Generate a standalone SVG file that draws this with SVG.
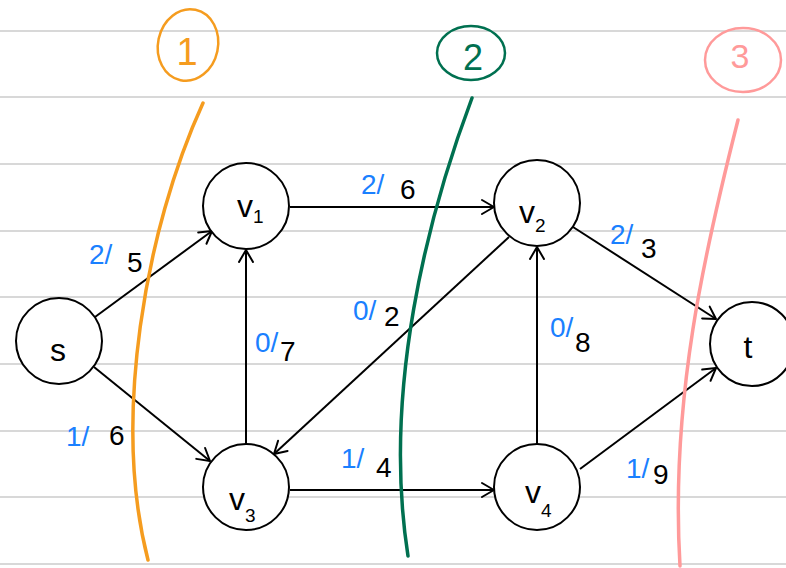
<svg xmlns="http://www.w3.org/2000/svg" width="786" height="568" viewBox="0 0 786 568">
<defs>
<style>
.rule{stroke:#d8d8d8;stroke-width:2}
.node{fill:#fff;stroke:#000;stroke-width:2}
.edge{stroke:#000;stroke-width:2;fill:none;marker-end:url(#arr)}
.lbl{font-family:"Liberation Sans","DejaVu Sans",sans-serif;fill:#000}
.nl{font-size:32px}
.sub{font-size:19px}
.fl{fill:#1a80ff}
.num{font-size:28px}
.cut{fill:none;stroke-width:3.5;stroke-linecap:round}
</style>
<marker id="arr" viewBox="-14 -9 16 18" refX="0" refY="0" markerWidth="16" markerHeight="18" markerUnits="userSpaceOnUse" orient="auto">
<path d="M-12,-7 L0,0 L-12,7" fill="none" stroke="#000" stroke-width="2" stroke-linecap="round" stroke-linejoin="round"/>
</marker>
</defs>
<rect width="786" height="568" fill="#fff"/>
<g id="rules">
<line class="rule" x1="0" y1="31" x2="786" y2="31"/>
<line class="rule" x1="0" y1="97" x2="786" y2="97"/>
<line class="rule" x1="0" y1="164" x2="786" y2="164"/>
<line class="rule" x1="0" y1="231" x2="786" y2="231"/>
<line class="rule" x1="0" y1="297" x2="786" y2="297"/>
<line class="rule" x1="0" y1="364" x2="786" y2="364"/>
<line class="rule" x1="0" y1="431" x2="786" y2="431"/>
<line class="rule" x1="0" y1="497" x2="786" y2="497"/>
<line class="rule" x1="0" y1="564" x2="786" y2="564"/>
</g>
<g id="connectors">
<line class="edge" x1="95" y1="317" x2="212" y2="231"/>
<line class="edge" x1="94" y1="367" x2="210" y2="461"/>
<line class="edge" x1="290" y1="207" x2="494" y2="207"/>
<line class="edge" x1="246" y1="444" x2="246" y2="250"/>
<line class="edge" x1="509" y1="237" x2="274" y2="454"/>
<line class="edge" x1="537" y1="444" x2="537" y2="247"/>
<line class="edge" x1="573" y1="227" x2="716" y2="319"/>
<line class="edge" x1="290" y1="490" x2="494" y2="490"/>
<line class="edge" x1="580" y1="469" x2="716" y2="368"/>
</g>
<g id="node-s"><circle class="node" cx="59" cy="341" r="43"/><text class="lbl nl" x="58" y="361" text-anchor="middle">s</text></g>
<g id="node-v1"><circle class="node" cx="246" cy="206" r="43"/><text class="lbl nl" x="237" y="217">v<tspan class="sub" dy="6">1</tspan></text></g>
<g id="node-v2"><circle class="node" cx="537" cy="203" r="43"/><text class="lbl nl" x="519" y="223">v<tspan class="sub" dy="9">2</tspan></text></g>
<g id="node-v3"><circle class="node" cx="246" cy="487" r="43"/><text class="lbl nl" x="229" y="510">v<tspan class="sub" dy="12">3</tspan></text></g>
<g id="node-v4"><circle class="node" cx="537" cy="487" r="43"/><text class="lbl nl" x="525" y="503">v<tspan class="sub" dy="14">4</tspan></text></g>
<g id="node-t"><circle class="node" cx="752" cy="344" r="42"/><text class="lbl nl" x="748" y="358" text-anchor="middle">t</text></g>
<g id="labels" class="lbl num">
<text x="89" y="264"><tspan class="fl">2/</tspan></text><text x="127" y="272">5</text>
<text x="66" y="446"><tspan class="fl">1/</tspan></text><text x="109" y="445">6</text>
<text x="361" y="194"><tspan class="fl">2/</tspan></text><text x="400" y="199">6</text>
<text x="353" y="320"><tspan class="fl">0/</tspan></text><text x="384" y="326">2</text>
<text x="255" y="352"><tspan class="fl">0/</tspan></text><text x="280" y="361">7</text>
<text x="550" y="337"><tspan class="fl">0/</tspan></text><text x="575" y="352">8</text>
<text x="610" y="244"><tspan class="fl">2/</tspan></text><text x="641" y="258">3</text>
<text x="341" y="468"><tspan class="fl">1/</tspan></text><text x="376" y="477">4</text>
<text x="626" y="478"><tspan class="fl">1/</tspan></text><text x="653" y="484">9</text>
</g>
<g id="cut-1">
<ellipse cx="188" cy="45" rx="30" ry="36" transform="rotate(12 188 45)" fill="none" stroke="#f59c1f" stroke-width="2.5"/>
<text class="lbl" x="187" y="65" text-anchor="middle" font-size="38" style="fill:#f59c1f">1</text>
<path class="cut" stroke="#f59c1f" d="M203,103 C145,230 112,420 148,560"/>
</g>
<g id="cut-2">
<ellipse cx="471" cy="53" rx="34" ry="27" fill="none" stroke="#007050" stroke-width="2.5"/>
<text class="lbl" x="473" y="70" text-anchor="middle" font-size="36" style="fill:#007050">2</text>
<path class="cut" stroke="#007050" d="M472,98 C428,215 382,390 408,556"/>
</g>
<g id="cut-3">
<ellipse cx="743" cy="60" rx="38" ry="32" fill="none" stroke="#ff9a9a" stroke-width="2.5"/>
<text class="lbl" x="740" y="68" text-anchor="middle" font-size="34" style="fill:#ff9a9a">3</text>
<path class="cut" stroke="#ff9a9a" d="M738,120 C705,250 670,400 680,566"/>
</g>
</svg>
